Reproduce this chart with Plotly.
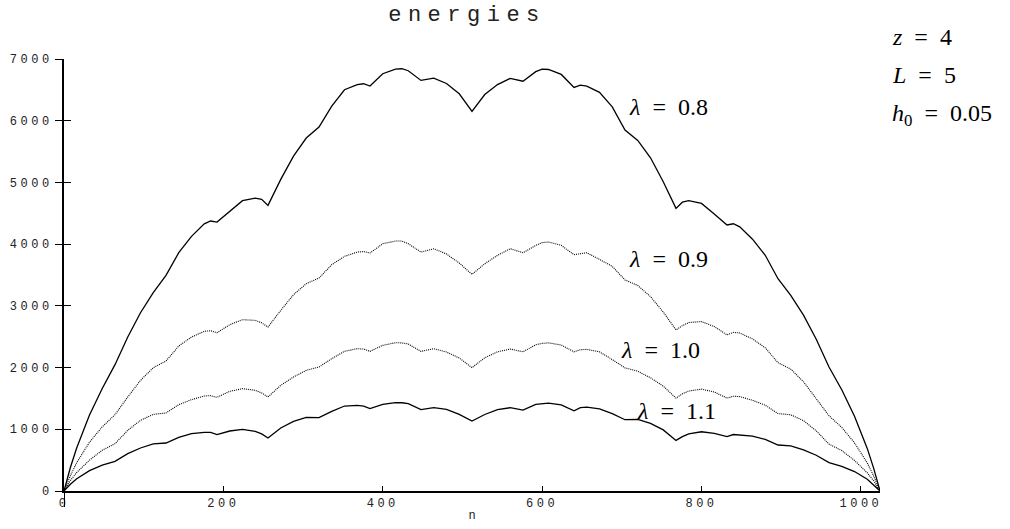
import plotly.graph_objects as go

# ---- data ----
n_vals = [0, 8, 16, 32, 48, 64, 80, 96, 112, 128, 144, 160, 176, 184, 192, 208, 224, 240, 248, 256,
          272, 288, 304, 320, 336, 352, 368, 376, 384, 400, 416, 424, 432, 448, 464, 480, 496, 512,
          528, 544, 560, 576, 592, 600, 608, 624, 640, 648, 656, 672, 688, 704, 720, 736, 752, 768,
          776, 784, 800, 816, 832, 840, 848, 864, 880, 896, 912, 928, 944, 960, 976, 992, 1008, 1016, 1024]

e_lam08 = [0, 380, 700, 1230, 1660, 2047, 2495, 2889, 3213, 3494, 3861, 4126, 4330, 4375, 4358, 4531, 4704, 4747, 4725, 4628,
           5049, 5427, 5719, 5897, 6237, 6502, 6583, 6599, 6561, 6761, 6837, 6842, 6810, 6653, 6691, 6604, 6437, 6151,
           6425, 6585, 6685, 6640, 6795, 6835, 6830, 6750, 6540, 6575, 6560, 6460, 6225, 5850, 5680, 5400, 5010, 4580,
           4680, 4705, 4660, 4490, 4310, 4330, 4280, 4080, 3820, 3440, 3170, 2850, 2460, 2010, 1640, 1210, 690, 370, 0]

e_lam09 = [0, 250, 460, 790, 1040, 1237, 1523, 1793, 1998, 2106, 2349, 2495, 2587, 2598, 2565, 2695, 2776, 2765, 2725, 2657,
           2927, 3181, 3359, 3451, 3667, 3802, 3872, 3880, 3856, 4007, 4050, 4050, 4007, 3872, 3926, 3840, 3694, 3510,
           3683, 3818, 3926, 3861, 3980, 4025, 4034, 3980, 3829, 3850, 3861, 3753, 3640, 3420, 3330, 3150, 2900, 2610,
           2680, 2730, 2745, 2665, 2530, 2570, 2560, 2465, 2320, 2080, 1975, 1770, 1500, 1220, 1030, 780, 455, 245, 0]

e_lam10 = [0, 170, 300, 500, 660, 767, 983, 1145, 1242, 1264, 1399, 1480, 1539, 1545, 1518, 1615, 1658, 1631, 1590, 1523,
           1712, 1847, 1955, 2009, 2144, 2263, 2306, 2300, 2263, 2360, 2403, 2400, 2382, 2263, 2306, 2252, 2155, 1998,
           2160, 2255, 2300, 2255, 2370, 2392, 2400, 2365, 2255, 2290, 2295, 2255, 2130, 1995, 1940, 1835, 1700, 1505,
           1575, 1620, 1650, 1605, 1505, 1535, 1530, 1470, 1390, 1255, 1235, 1140, 975, 760, 655, 495, 295, 165, 0]

e_lam11 = [0, 110, 200, 330, 420, 481, 605, 697, 762, 778, 870, 929, 951, 950, 913, 972, 999, 967, 925, 859,
           1021, 1129, 1194, 1188, 1291, 1377, 1388, 1375, 1334, 1404, 1431, 1430, 1415, 1318, 1350, 1323, 1242, 1134,
           1240, 1320, 1350, 1310, 1405, 1420, 1425, 1395, 1300, 1350, 1360, 1330, 1255, 1155, 1160, 1095, 990, 820,
           880, 925, 960, 935, 880, 915, 910, 890, 835, 745, 730, 665, 580, 460, 400, 315, 190, 100, 0]

series_names = ["λ = 0.8", "λ = 0.9", "λ = 1.0", "λ = 1.1"]
series_vals = [e_lam08, e_lam09, e_lam10, e_lam11]
series_dash = ["solid", "1px,1px", "1px,1px", "solid"]
series_width = [1.3, 1.1, 1.1, 1.3]

x_ticks = [0, 200, 400, 600, 800, 1000]
y_ticks = [0, 1000, 2000, 3000, 4000, 5000, 6000, 7000]

MONO = "Liberation Mono, DejaVu Sans Mono, monospace"
SERIF = "Liberation Serif, DejaVu Serif, serif"

def spaced(s, sp=3.5):
    return f'<span style="letter-spacing:{sp}px">{s}</span>'

fig = go.Figure()
for name, vals, dash, w in zip(series_names, series_vals, series_dash, series_width):
    fig.add_trace(go.Scatter(x=n_vals, y=vals, mode="lines", name=name,
                             line=dict(color="black", width=w, dash=dash),
                             showlegend=False))

# helper trace for the overlay axes (crossing ticks)
fig.add_trace(go.Scatter(x=[], y=[], xaxis="x2", yaxis="y2", showlegend=False, hoverinfo="skip"))

fig.update_layout(
    width=1010, height=529,
    margin=dict(l=64, r=130, t=59, b=38, autoexpand=False),
    paper_bgcolor="white", plot_bgcolor="white",
    title=dict(text=spaced("energies", 6.5), font=dict(family=MONO, size=22, color="#222"),
               xref="container", yref="container", x=467/1010, y=1-13/529,
               xanchor="center", yanchor="middle"),
    xaxis=dict(range=[0, 1024], tickvals=x_ticks, ticktext=[spaced(str(v)) for v in x_ticks],
               ticks="inside", ticklen=5, tickwidth=1.3, tickcolor="black",
               showline=True, linewidth=2, linecolor="black", automargin=False,
               showgrid=False, zeroline=False,
               tickfont=dict(family=MONO, size=12, color="#222"),
               title=dict(text="n", font=dict(family=MONO, size=12, color="#222"), standoff=0)),
    yaxis=dict(range=[0, 7000], tickvals=y_ticks, ticktext=[spaced(str(v)) for v in y_ticks],
               ticks="outside", ticklen=7, tickwidth=1.3, tickcolor="black",
               showline=True, linewidth=2, linecolor="black", automargin=False,
               showgrid=False, zeroline=False,
               tickfont=dict(family=MONO, size=12, color="#222")),
    xaxis2=dict(range=[0, 1024], overlaying="x", anchor="y2", tickvals=[0], automargin=False,
                ticks="outside", ticklen=15, tickwidth=1.3, tickcolor="black",
                showticklabels=False, showline=False, showgrid=False, zeroline=False),
    yaxis2=dict(range=[0, 7000], overlaying="y", anchor="x2", side="left", tickvals=y_ticks,
                ticks="inside", ticklen=7, tickwidth=1.3, tickcolor="black", automargin=False,
                showticklabels=False, showline=False, showgrid=False, zeroline=False),
)

sp = "\u2002"
label_pos = [(706, 6220), (706, 3760), (697, 2280), (716, 1300)]
for name, (lx, ly) in zip(series_names, label_pos):
    val = name.split("= ")[1]
    fig.add_annotation(x=lx, y=ly, xref="x", yref="y", text=f"<i>λ</i>{sp}={sp}{val}",
                       showarrow=False, xanchor="left", yanchor="middle",
                       font=dict(family=SERIF, size=24, color="black"))

params = [f"<i>z</i>{sp}={sp}4", f"<i>L</i>{sp}={sp}5", f"<i>h</i><sub>0</sub>{sp}={sp}0.05"]
param_y = [1 - (37.5 - 59) / 432, 1 - (74.5 - 59) / 432, 1 - (115 - 59) / 432]
for t, py in zip(params, param_y):
    fig.add_annotation(x=(890 - 64) / 816, y=py, xref="paper", yref="paper", text=t, showarrow=False,
                       xanchor="left", yanchor="middle",
                       font=dict(family=SERIF, size=24, color="black"))

fig.write_html("out.html", config={"displayModeBar": False},
               post_script="document.body.style.margin='0px';")
